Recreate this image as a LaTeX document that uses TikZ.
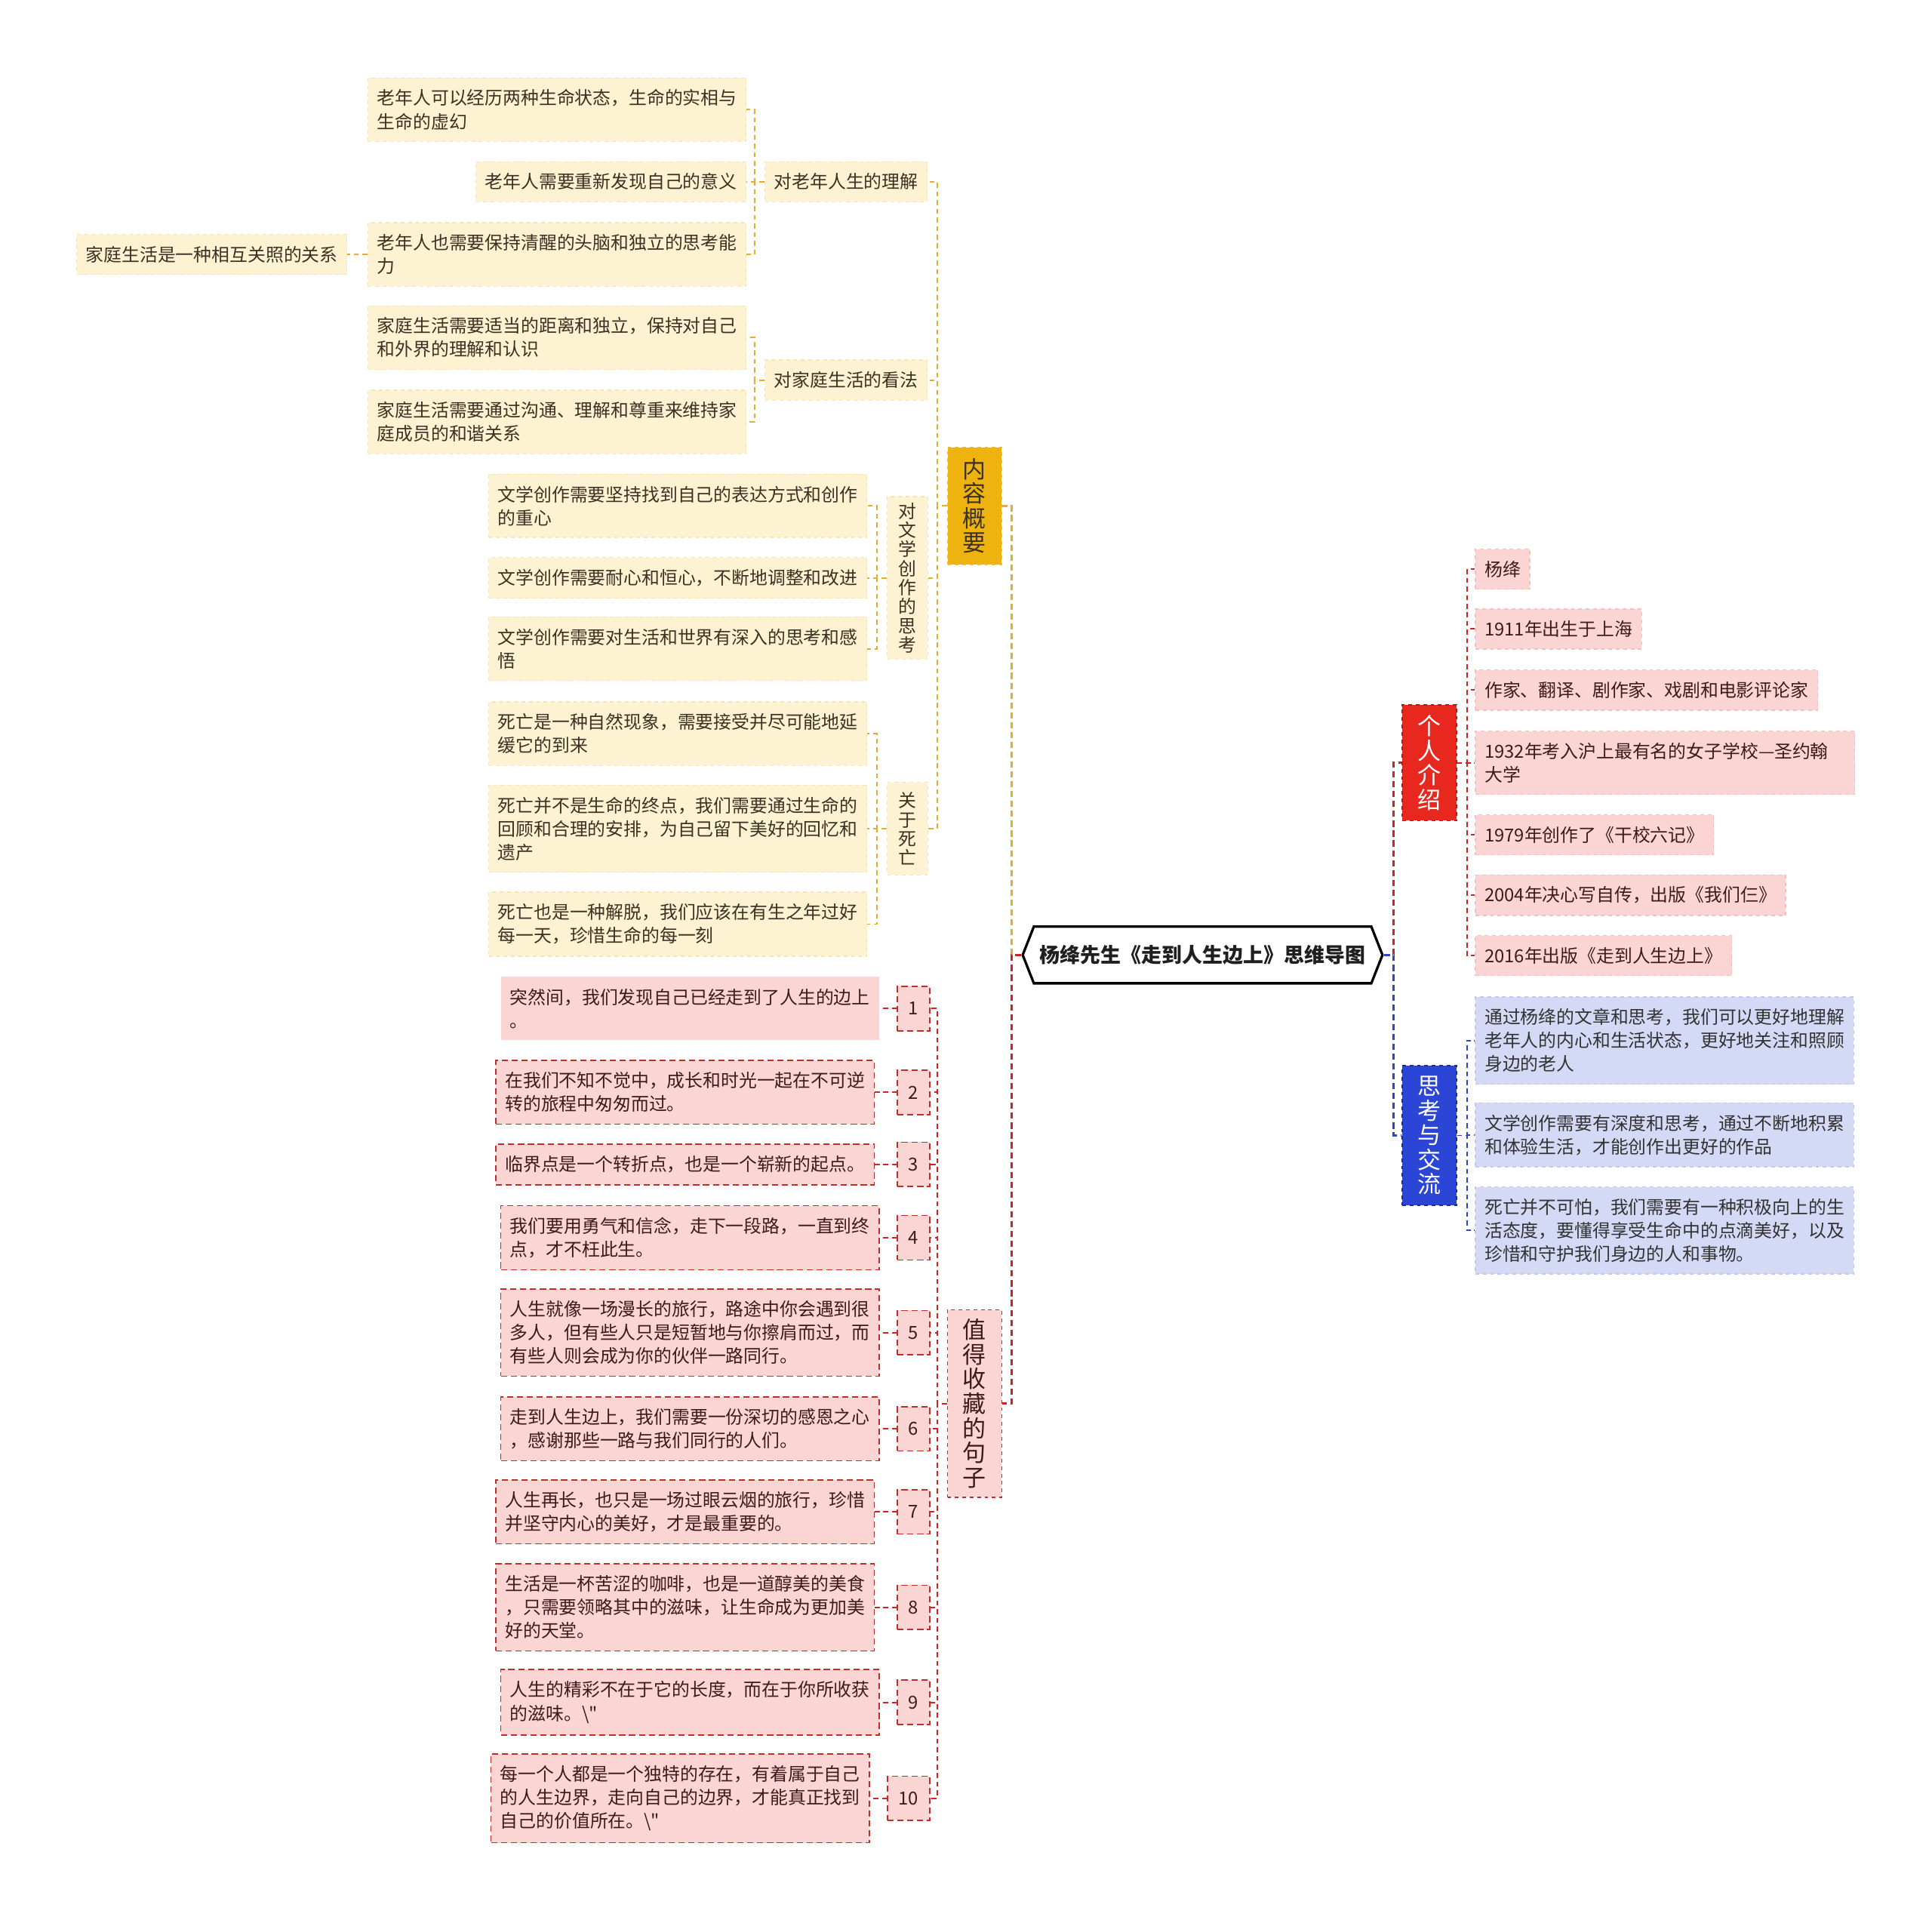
\documentclass[tikz,border=0pt]{standalone}
\usepackage{fontspec}
\newfontfamily\cjk{Noto Sans CJK SC}
\usetikzlibrary{shapes.symbols}
\definecolor{yfill}{HTML}{FDF3D2}
\definecolor{yedge}{HTML}{F6E5B4}
\definecolor{ygold}{HTML}{EFB30F}
\definecolor{yline}{HTML}{E2AE2C}
\definecolor{ytext}{HTML}{3A3222}
\definecolor{pfill}{HTML}{FBD4D4}
\definecolor{pedge}{HTML}{F3C0C0}
\definecolor{rline}{HTML}{CC2424}
\definecolor{rbox}{HTML}{E8281F}
\definecolor{rtext}{HTML}{3F1A1A}
\definecolor{sedge}{HTML}{BF2E28}
\definecolor{bline}{HTML}{2C45C8}
\definecolor{bbox}{HTML}{2B45D6}
\definecolor{bfill}{HTML}{D4D9F5}
\definecolor{bedge}{HTML}{C3C9EE}

\begin{document}
\begin{tikzpicture}[x=1pt, y=-1pt, thick,
    every node/.style={font=\cjk\fontsize{14.6}{19}\selectfont, inner xsep=7.5pt, inner ysep=9.5pt, align=left},
    root/.style={shape=signal, signal to=west and east, signal pointer angle=137, draw=black, line width=2pt, fill=white,
        minimum width=292pt, minimum height=46pt, inner sep=0pt, text=black!88, font=\cjk\bfseries\fontsize{16.5}{20}\selectfont},
    bigv/.style={align=center, minimum width=44pt, inner xsep=0pt, inner ysep=0pt, dashed, line width=1pt,
        font=\cjk\fontsize{19}{20}\selectfont},
    ybig/.style={bigv, fill=ygold, draw=ygold!85!white, text=ytext},
    rbig/.style={bigv, fill=rbox, draw=rbox!75!black, text=white},
    bbig/.style={bigv, fill=bbox, draw=bbox!65!black, text=white},
    pbig/.style={bigv, fill=pfill, draw=sedge, text=rtext},
    ymid/.style={fill=yfill, draw=yedge, dashed, line width=0.8pt, text=ytext},
    yvert/.style={align=center, minimum width=33pt, inner xsep=0pt, inner ysep=0pt, font=\cjk\fontsize{14.6}{15.5}\selectfont},
    yleaf/.style={fill=yfill, draw=yedge, dashed, line width=0.8pt, text=ytext, anchor=east},
    sent/.style={fill=pfill, draw=sedge, dash pattern=on 5pt off 3pt, line width=1pt, text=rtext, anchor=east},
    num/.style={sent, inner xsep=9pt, minimum height=36pt, inner ysep=0pt, align=center},
    pleaf/.style={fill=pfill, draw=pedge, dashed, line width=0.8pt, text=rtext, anchor=west},
    bleaf/.style={fill=bfill, draw=bedge, dashed, line width=0.8pt, text=black!80, anchor=west},
    tlink/.style={dash pattern=on 5pt off 3pt, line width=1.7pt},
    ylink/.style={draw=yline, dash pattern=on 4pt off 3pt, line width=1.2pt},
    rlink/.style={draw=rline, dash pattern=on 4pt off 3pt, line width=1.2pt},
    blink/.style={draw=bline, dash pattern=on 4pt off 3pt, line width=1.2pt}
]
\useasboundingbox (0,0) rectangle (1568,1557.6);

\node[root] (root) at (976,775) {杨绛先生《走到人生边上》思维导图};

\node[ybig, minimum height=95pt] (nr) at (791,410.5) {内\\容\\概\\要};
\node[pbig, minimum height=152pt] (zd) at (791,1139) {值\\得\\收\\藏\\的\\句\\子};
\node[rbig, minimum height=94pt] (gr) at (1160,619) {个\\人\\介\\绍};
\node[bbig, minimum height=113pt] (sk) at (1160,921.5) {思\\考\\与\\交\\流};

\node[ymid, anchor=east] (k1) at (753,147.5) {对老年人生的理解};
\node[ymid, anchor=east] (k2) at (753,308.5) {对家庭生活的看法};
\node[ymid, yvert, minimum height=132pt] (k3) at (736.5,469) {对\\文\\学\\创\\作\\的\\思\\考};
\node[ymid, yvert, minimum height=75pt] (k4) at (736.5,672.5) {关\\于\\死\\亡};

\node[yleaf] (a1) at (606,89) {老年人可以经历两种生命状态，生命的实相与\\生命的虚幻};
\node[yleaf] (a2) at (606,147.5) {老年人需要重新发现自己的意义};
\node[yleaf] (a3) at (606,206.5) {老年人也需要保持清醒的头脑和独立的思考能\\力};
\node[yleaf] (a4) at (282,206.5) {家庭生活是一种相互关照的关系};
\node[yleaf] (b1) at (606,274) {家庭生活需要适当的距离和独立，保持对自己\\和外界的理解和认识};
\node[yleaf] (b2) at (606,342.5) {家庭生活需要通过沟通、理解和尊重来维持家\\庭成员的和谐关系};
\node[yleaf] (c1) at (704,410.5) {文学创作需要坚持找到自己的表达方式和创作\\的重心};
\node[yleaf] (c2) at (704,469) {文学创作需要耐心和恒心，不断地调整和改进};
\node[yleaf] (c3) at (704,526.5) {文学创作需要对生活和世界有深入的思考和感\\悟};
\node[yleaf] (d1) at (704,595.5) {死亡是一种自然现象，需要接受并尽可能地延\\缓它的到来};
\node[yleaf] (d2) at (704,672.5) {死亡并不是生命的终点，我们需要通过生命的\\回顾和合理的安排，为自己留下美好的回忆和\\遗产};
\node[yleaf] (d3) at (704,750) {死亡也是一种解脱，我们应该在有生之年过好\\每一天，珍惜生命的每一刻};

\node[sent, draw=none] (s1) at (714,818.5) {突然间，我们发现自己已经走到了人生的边上\\。};
\node[sent] (s2) at (710,886.5) {在我们不知不觉中，成长和时光一起在不可逆\\转的旅程中匆匆而过。};
\node[sent] (s3) at (710,945) {临界点是一个转折点，也是一个崭新的起点。};
\node[sent] (s4) at (714,1004.5) {我们要用勇气和信念，走下一段路，一直到终\\点，才不枉此生。};
\node[sent] (s5) at (714,1081.5) {人生就像一场漫长的旅行，路途中你会遇到很\\多人，但有些人只是短暂地与你擦肩而过，而\\有些人则会成为你的伙伴一路同行。};
\node[sent] (s6) at (714,1159.5) {走到人生边上，我们需要一份深切的感恩之心\\，感谢那些一路与我们同行的人们。};
\node[sent] (s7) at (710,1227) {人生再长，也只是一场过眼云烟的旅行，珍惜\\并坚守内心的美好，才是最重要的。};
\node[sent] (s8) at (710,1304.5) {生活是一杯苦涩的咖啡，也是一道醇美的美食\\，只需要领略其中的滋味，让生命成为更加美\\好的天堂。};
\node[sent] (s9) at (714,1381.5) {人生的精彩不在于它的长度，而在于你所收获\\的滋味。\textbackslash"};
\node[sent] (s10) at (706,1459.5) {每一个人都是一个独特的存在，有着属于自己\\的人生边界，走向自己的边界，才能真正找到\\自己的价值所在。\textbackslash"};

\node[num] (n1) at (755,818.5) {1};
\node[num] (n2) at (755,886.5) {2};
\node[num] (n3) at (755,945) {3};
\node[num] (n4) at (755,1004.5) {4};
\node[num] (n5) at (755,1081.5) {5};
\node[num] (n6) at (755,1159.5) {6};
\node[num] (n7) at (755,1227) {7};
\node[num] (n8) at (755,1304.5) {8};
\node[num] (n9) at (755,1381.5) {9};
\node[num] (n10) at (755,1459.5) {10};

\node[pleaf] (p1) at (1197,462) {杨绛};
\node[pleaf] (p2) at (1197,510.5) {1911年出生于上海};
\node[pleaf] (p3) at (1197,560) {作家、翻译、剧作家、戏剧和电影评论家};
\node[pleaf, text width=293pt] (p4) at (1197,619) {1932年考入沪上最有名的女子学校—圣约翰\\大学};
\node[pleaf] (p5) at (1197,677.5) {1979年创作了《干校六记》};
\node[pleaf] (p6) at (1197,726.5) {2004年决心写自传，出版《我们仨》};
\node[pleaf] (p7) at (1197,775.5) {2016年出版《走到人生边上》};

\node[bleaf] (q1) at (1197,844.5) {通过杨绛的文章和思考，我们可以更好地理解\\老年人的内心和生活状态，更好地关注和照顾\\身边的老人};
\node[bleaf] (q2) at (1197,921) {文学创作需要有深度和思考，通过不断地积累\\和体验生活，才能创作出更好的作品};
\node[bleaf] (q3) at (1197,998.5) {死亡并不可怕，我们需要有一种积极向上的生\\活态度，要懂得享受生命中的点滴美好，以及\\珍惜和守护我们身边的人和事物。};

\draw[tlink, draw=yline] (root.west) -- ++(-8,0) |- (nr.east);
\draw[tlink, draw=rline] (root.west) -- ++(-8,0) |- (zd.east);
\draw[tlink, draw=rline] (root.east) -- ++(8,0) |- (gr.west);
\draw[tlink, draw=bline] (root.east) -- ++(8,0) |- (sk.west);

\draw[ylink] (nr.west) -- ++(-8,0) |- (k1.east)
             (nr.west) -- ++(-8,0) |- (k2.east)
             (nr.west) -- ++(-8,0) |- (k3.east)
             (nr.west) -- ++(-8,0) |- (k4.east)
;
\draw[ylink] (k1.west) -- ++(-8,0) |- (a1.east)
             (k1.west) -- ++(-8,0) |- (a2.east)
             (k1.west) -- ++(-8,0) |- (a3.east)
             (a3.west) -- (a4.east)
;
\draw[ylink] (k2.west) -- ++(-8,0) |- (b1.east)
             (k2.west) -- ++(-8,0) |- (b2.east)
;
\draw[ylink] (k3.west) -- ++(-8,0) |- (c1.east)
             (k3.west) -- ++(-8,0) |- (c2.east)
             (k3.west) -- ++(-8,0) |- (c3.east)
;
\draw[ylink] (k4.west) -- ++(-8,0) |- (d1.east)
             (k4.west) -- ++(-8,0) |- (d2.east)
             (k4.west) -- ++(-8,0) |- (d3.east)
;
\draw[rlink] (zd.west) -- ++(-8,0) |- (n1.east)
             (zd.west) -- ++(-8,0) |- (n2.east)
             (zd.west) -- ++(-8,0) |- (n3.east)
             (zd.west) -- ++(-8,0) |- (n4.east)
             (zd.west) -- ++(-8,0) |- (n5.east)
             (zd.west) -- ++(-8,0) |- (n6.east)
             (zd.west) -- ++(-8,0) |- (n7.east)
             (zd.west) -- ++(-8,0) |- (n8.east)
             (zd.west) -- ++(-8,0) |- (n9.east)
             (zd.west) -- ++(-8,0) |- (n10.east)
;
\draw[rlink] (n1.west) -- (s1.east)
             (n2.west) -- (s2.east)
             (n3.west) -- (s3.east)
             (n4.west) -- (s4.east)
             (n5.west) -- (s5.east)
             (n6.west) -- (s6.east)
             (n7.west) -- (s7.east)
             (n8.west) -- (s8.east)
             (n9.west) -- (s9.east)
             (n10.west) -- (s10.east)
;
\draw[rlink] (gr.east) -- ++(8,0) |- (p1.west)
             (gr.east) -- ++(8,0) |- (p2.west)
             (gr.east) -- ++(8,0) |- (p3.west)
             (gr.east) -- ++(8,0) |- (p4.west)
             (gr.east) -- ++(8,0) |- (p5.west)
             (gr.east) -- ++(8,0) |- (p6.west)
             (gr.east) -- ++(8,0) |- (p7.west)
;
\draw[blink] (sk.east) -- ++(8,0) |- (q1.west)
             (sk.east) -- ++(8,0) |- (q2.west)
             (sk.east) -- ++(8,0) |- (q3.west)
;
\end{tikzpicture}
\end{document}
